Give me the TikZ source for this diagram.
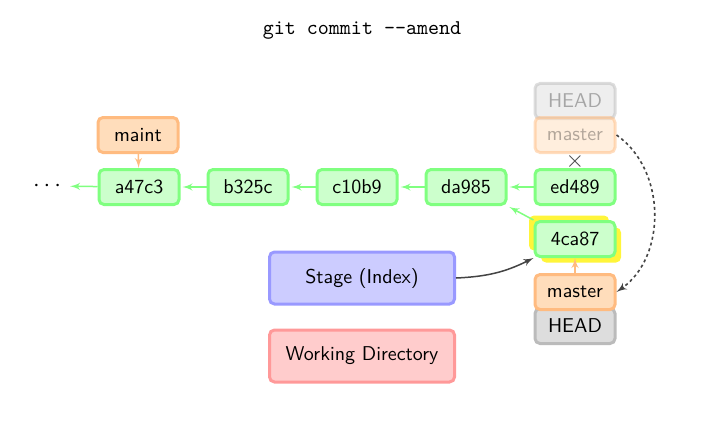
\documentclass[tikz,border=0pt]{standalone}
\usepackage{tikz}
\usetikzlibrary{arrows}
\definecolor{commitfill}{HTML}{CCFFCC}
\definecolor{commitline}{HTML}{80FF80}
\definecolor{branchfill}{HTML}{FFDDBB}
\definecolor{branchline}{HTML}{FFBB80}
\definecolor{headfill}{HTML}{DDDDDD}
\definecolor{headline}{HTML}{BBBBBB}
\definecolor{stagefill}{HTML}{CCCCFF}
\definecolor{stageline}{HTML}{9999FF}
\definecolor{workfill}{HTML}{FFCCCC}
\definecolor{workline}{HTML}{FF9999}
\definecolor{darkarrow}{HTML}{444444}
\definecolor{glowfill}{HTML}{FFF53A}
\tikzset{box/.style = {shape=rectangle,rounded corners=2.5pt,line width=1.5pt,font=\sffamily,
  minimum width=40pt,minimum height=17.5pt,inner sep=0pt}}
\tikzset{commit/.style = {box,draw=commitline,fill=commitfill}}
\tikzset{branch/.style = {box,draw=branchline,fill=branchfill}}
\tikzset{headbox/.style = {box,draw=headline,fill=headfill}}
\tikzset{area/.style = {box,minimum width=92.5pt,minimum height=26pt}}
\tikzset{faded/.style = {fill opacity=0.5,draw opacity=0.5,text opacity=0.3}}
\tikzset{glow/.style = {box,fill=glowfill,draw=none}}
\tikzset{parent/.style = {->,> = latex',commitline,line width=0.75pt,shorten >=1pt}}
\tikzset{pointer/.style = {->,> = latex',branchline,line width=0.75pt}}

\begin{document}
\begin{tikzpicture}[x=0.5pt,y=-0.5pt]

\useasboundingbox (0,0) rectangle (726,433);

\node (title) at (362,30) {\fontsize{10.5}{12}\ttfamily git commit -{}-amend};

\node[font=\large] (dots) at (47,186) {$\cdots$};
\node[commit] (a47c3) at (139,187) {a47c3};
\node[commit] (b325c) at (248,187) {b325c};
\node[commit] (c10b9) at (357,187) {c10b9};
\node[commit] (da985) at (466,187) {da985};
\node[commit] (ed489) at (575,187) {ed489};

\node[branch] (maint) at (138,135) {maint};

\node[headbox,faded] (oldhead) at (575,101) {HEAD};
\node[branch,faded] (oldmaster) at (575,135) {master};
\node[text=darkarrow,font=\large] (cross) at (575,161) {$\times$};

\node[glow] (glowa) at (569,233) {};
\node[glow] (glowb) at (581,245) {};
\node[commit] (4ca87) at (575,239) {4ca87};

\node[headbox] (head) at (575,326) {HEAD};
\node[branch] (master) at (575,292) {master};

\node[area,draw=stageline,fill=stagefill] (stage) at (362,278) {Stage (Index)};
\node[area,draw=workline,fill=workfill] (work) at (362,356) {Working Directory};

\draw[parent] (a47c3) -- (dots);
\draw[parent] (b325c) -- (a47c3);
\draw[parent] (c10b9) -- (b325c);
\draw[parent] (da985) -- (c10b9);
\draw[parent] (ed489) -- (da985);
\draw[parent] (4ca87.north west) -- (da985.south east);

\draw[pointer] (maint) -- (a47c3);
\draw[pointer] (master) -- (4ca87);

\draw[->,> = latex',darkarrow,line width=0.75pt] (stage.east) to[bend right=12] (4ca87.south west);
\draw[->,> = latex',darkarrow,line width=0.8pt,dash pattern=on 1.5pt off 1.5pt]
  (oldmaster.east) to[out=-35,in=35] (master.east);

\end{tikzpicture}
\end{document}
